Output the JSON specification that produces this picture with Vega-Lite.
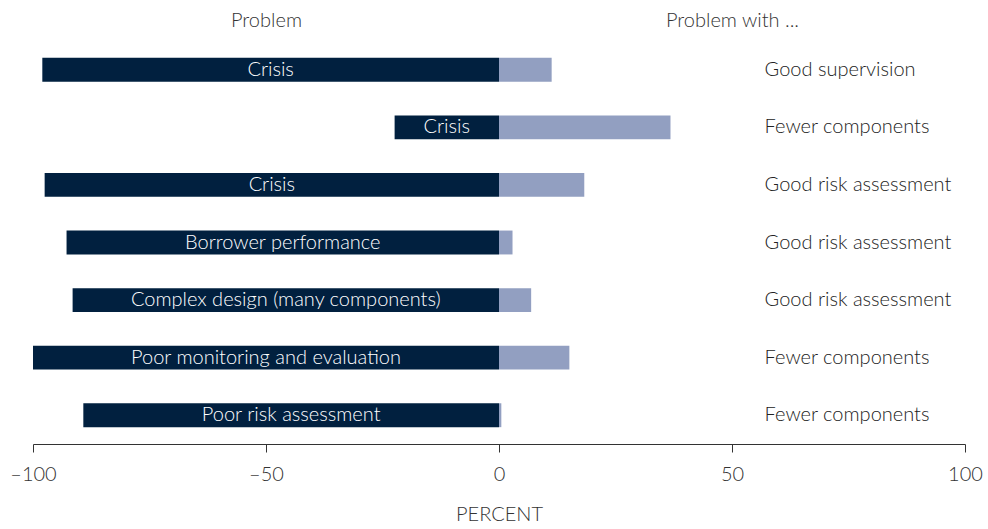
{
  "$schema": "https://vega.github.io/schema/vega-lite/v6.json",
  "width": 932,
  "height": 403,
  "autosize": {"type": "none"},
  "padding": {"left": 33, "top": 41, "right": 23, "bottom": 85},
  "background": "white",
  "config": {
    "view": {"stroke": null},
    "font": "Lato",
    "text": {"font": "Lato"}
  },
  "data": {
    "values": [
      {"id": 1, "problem_label": "Crisis", "problem": -98, "with": 11.3, "with_label": "Good supervision"},
      {"id": 2, "problem_label": "Crisis", "problem": -22.4, "with": 36.8, "with_label": "Fewer components"},
      {"id": 3, "problem_label": "Crisis", "problem": -97.5, "with": 18.3, "with_label": "Good risk assessment"},
      {"id": 4, "problem_label": "Borrower performance", "problem": -92.8, "with": 2.9, "with_label": "Good risk assessment"},
      {"id": 5, "problem_label": "Complex design (many components)", "problem": -91.5, "with": 6.9, "with_label": "Good risk assessment"},
      {"id": 6, "problem_label": "Poor monitoring and evaluation", "problem": -100, "with": 15.1, "with_label": "Fewer components"},
      {"id": 7, "problem_label": "Poor risk assessment", "problem": -89.2, "with": 0.5, "with_label": "Fewer components"}
    ]
  },
  "resolve": {"axis": {"x": "independent"}},
  "encoding": {
    "y": {
      "field": "id",
      "type": "ordinal",
      "sort": null,
      "axis": null,
      "scale": {"paddingInner": 0.585, "paddingOuter": 0.2925}
    }
  },
  "layer": [
    {
      "mark": {"type": "bar", "color": "#01203f"},
      "encoding": {
        "x": {
          "field": "problem",
          "type": "quantitative",
          "scale": {"domain": [-100, 100], "nice": false, "zero": false},
          "axis": {
            "orient": "bottom",
            "values": [-100, -50, 0, 50, 100],
            "labelExpr": "datum.value < 0 ? '–' + abs(datum.value) : datum.label",
            "labelFlush": false,
            "labelOverlap": false,
            "grid": false,
            "tickSize": 8,
            "tickColor": "#333333",
            "domainColor": "#333333",
            "labelColor": "#333333",
            "labelFont": "Lato",
            "labelFontSize": 20,
            "labelFontWeight": 300,
            "labelPadding": 12,
            "title": "PERCENT",
            "titleFont": "Lato",
            "titleFontSize": 20,
            "titleFontWeight": 300,
            "titleColor": "#333333",
            "titlePadding": 20
          }
        },
        "x2": {"datum": 0}
      }
    },
    {
      "mark": {"type": "bar", "color": "#929fc1"},
      "encoding": {
        "x": {
          "field": "with",
          "type": "quantitative",
          "axis": {
            "orient": "top",
            "values": [-50, 50],
            "labelExpr": "datum.value < 0 ? 'Problem' : 'Problem with ...'",
            "labelFlush": false,
            "labelOverlap": false,
            "grid": false,
            "ticks": false,
            "tickSize": 0,
            "domain": false,
            "labelColor": "#333333",
            "labelFont": "Lato",
            "labelFontSize": 20,
            "labelFontWeight": 300,
            "labelBaseline": "alphabetic",
            "labelPadding": 15,
            "title": null
          }
        },
        "x2": {"datum": 0}
      }
    },
    {
      "transform": [{"calculate": "datum.problem / 2", "as": "mid"}],
      "mark": {"type": "text", "color": "white", "fontSize": 20, "fontWeight": 300, "align": "center", "baseline": "middle"},
      "encoding": {
        "x": {"field": "mid", "type": "quantitative", "axis": null},
        "text": {"field": "problem_label"}
      }
    },
    {
      "mark": {"type": "text", "color": "#222222", "fontSize": 20, "fontWeight": 300, "align": "left", "baseline": "middle"},
      "encoding": {
        "x": {"datum": 57, "axis": null},
        "text": {"field": "with_label"}
      }
    },
    {
      "mark": {"type": "rule", "color": "#222222", "strokeWidth": 1, "strokeDash": [10, 8]},
      "encoding": {"x": {"datum": 0, "axis": null}}
    }
  ]
}
